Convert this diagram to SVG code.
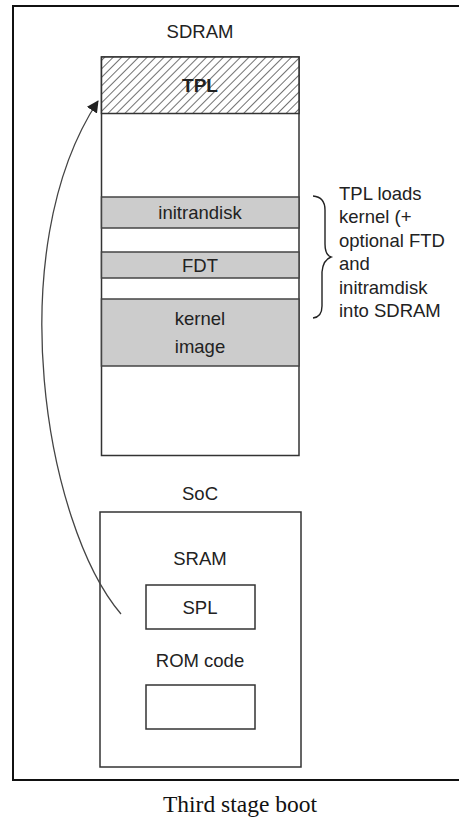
<svg xmlns="http://www.w3.org/2000/svg" width="459" height="824" viewBox="0 0 459 824">
<style>
.t{font-family:"Liberation Sans",Arial,sans-serif;font-size:18.5px;fill:#222;text-anchor:middle}
.r{text-anchor:start}
.box{fill:#fff;stroke:#333;stroke-width:1.5}
.band{fill:#cccccc;stroke:#444;stroke-width:1.5}
.cap{font-family:"Liberation Serif","Times New Roman",serif;font-size:23.5px;fill:#111;text-anchor:middle}
</style>
<defs>
<pattern id="hatch" patternUnits="userSpaceOnUse" width="6" height="6" patternTransform="rotate(45)">
<rect width="6" height="6" fill="#fff"/>
<line x1="0" y1="0" x2="0" y2="6" stroke="#333" stroke-width="1.4"/>
</pattern>
<marker id="ah" markerWidth="12" markerHeight="12" refX="11" refY="6" orient="auto" markerUnits="userSpaceOnUse">
<path d="M0,0 L12,6 L0,12 z" fill="#222"/>
</marker>
</defs>
<rect x="13" y="6" width="460" height="774" fill="none" stroke="#111" stroke-width="2"/>
<g id="sdram">
<text class="t" x="200" y="38">SDRAM</text>
<rect class="box" x="101.5" y="57" width="197.5" height="398.5"/>
</g>
<g id="tpl">
<rect x="101.5" y="57" width="197.5" height="56.5" fill="url(#hatch)" stroke="#333" stroke-width="1.5"/>
<text class="t" x="200" y="92" style="font-weight:bold;font-size:19px">TPL</text>
</g>
<g id="initrandisk">
<rect class="band" x="101.5" y="197" width="197.5" height="31"/>
<text class="t" x="200" y="219">initrandisk</text>
</g>
<g id="fdt">
<rect class="band" x="101.5" y="252" width="197.5" height="26"/>
<text class="t" x="200" y="272">FDT</text>
</g>
<g id="kernel">
<rect class="band" x="101.5" y="299" width="197.5" height="67"/>
<text class="t" x="200" y="325">kernel</text>
<text class="t" x="200" y="353">image</text>
</g>
<g id="note">
<path d="M313,196 Q325,197 325,210 L325,244 Q325,255 331,257 Q323,260 322,272 L322,306 Q322,317 313,318" fill="none" stroke="#222" stroke-width="1.4"/>
<text class="t r" x="339" y="200">TPL loads</text>
<text class="t r" x="339" y="223">kernel (+</text>
<text class="t r" x="339" y="247">optional FTD</text>
<text class="t r" x="339" y="270">and</text>
<text class="t r" x="339" y="294">initramdisk</text>
<text class="t r" x="339" y="317">into SDRAM</text>
</g>
<g id="soc">
<text class="t" x="200" y="500">SoC</text>
<rect class="box" x="100" y="512" width="201" height="255"/>
<text class="t" x="200" y="565">SRAM</text>
</g>
<g id="spl">
<rect class="box" x="146" y="585" width="109" height="44"/>
<text class="t" x="200" y="614">SPL</text>
</g>
<g id="rom">
<text class="t" x="200" y="667">ROM code</text>
<rect class="box" x="146" y="685" width="109" height="44"/>
</g>
<g id="connectors">
<path d="M121,614 C45,525 0,250 98,101" fill="none" stroke="#444" stroke-width="1.3" marker-end="url(#ah)"/>
</g>
<text class="cap" x="240" y="812">Third stage boot</text>
</svg>
